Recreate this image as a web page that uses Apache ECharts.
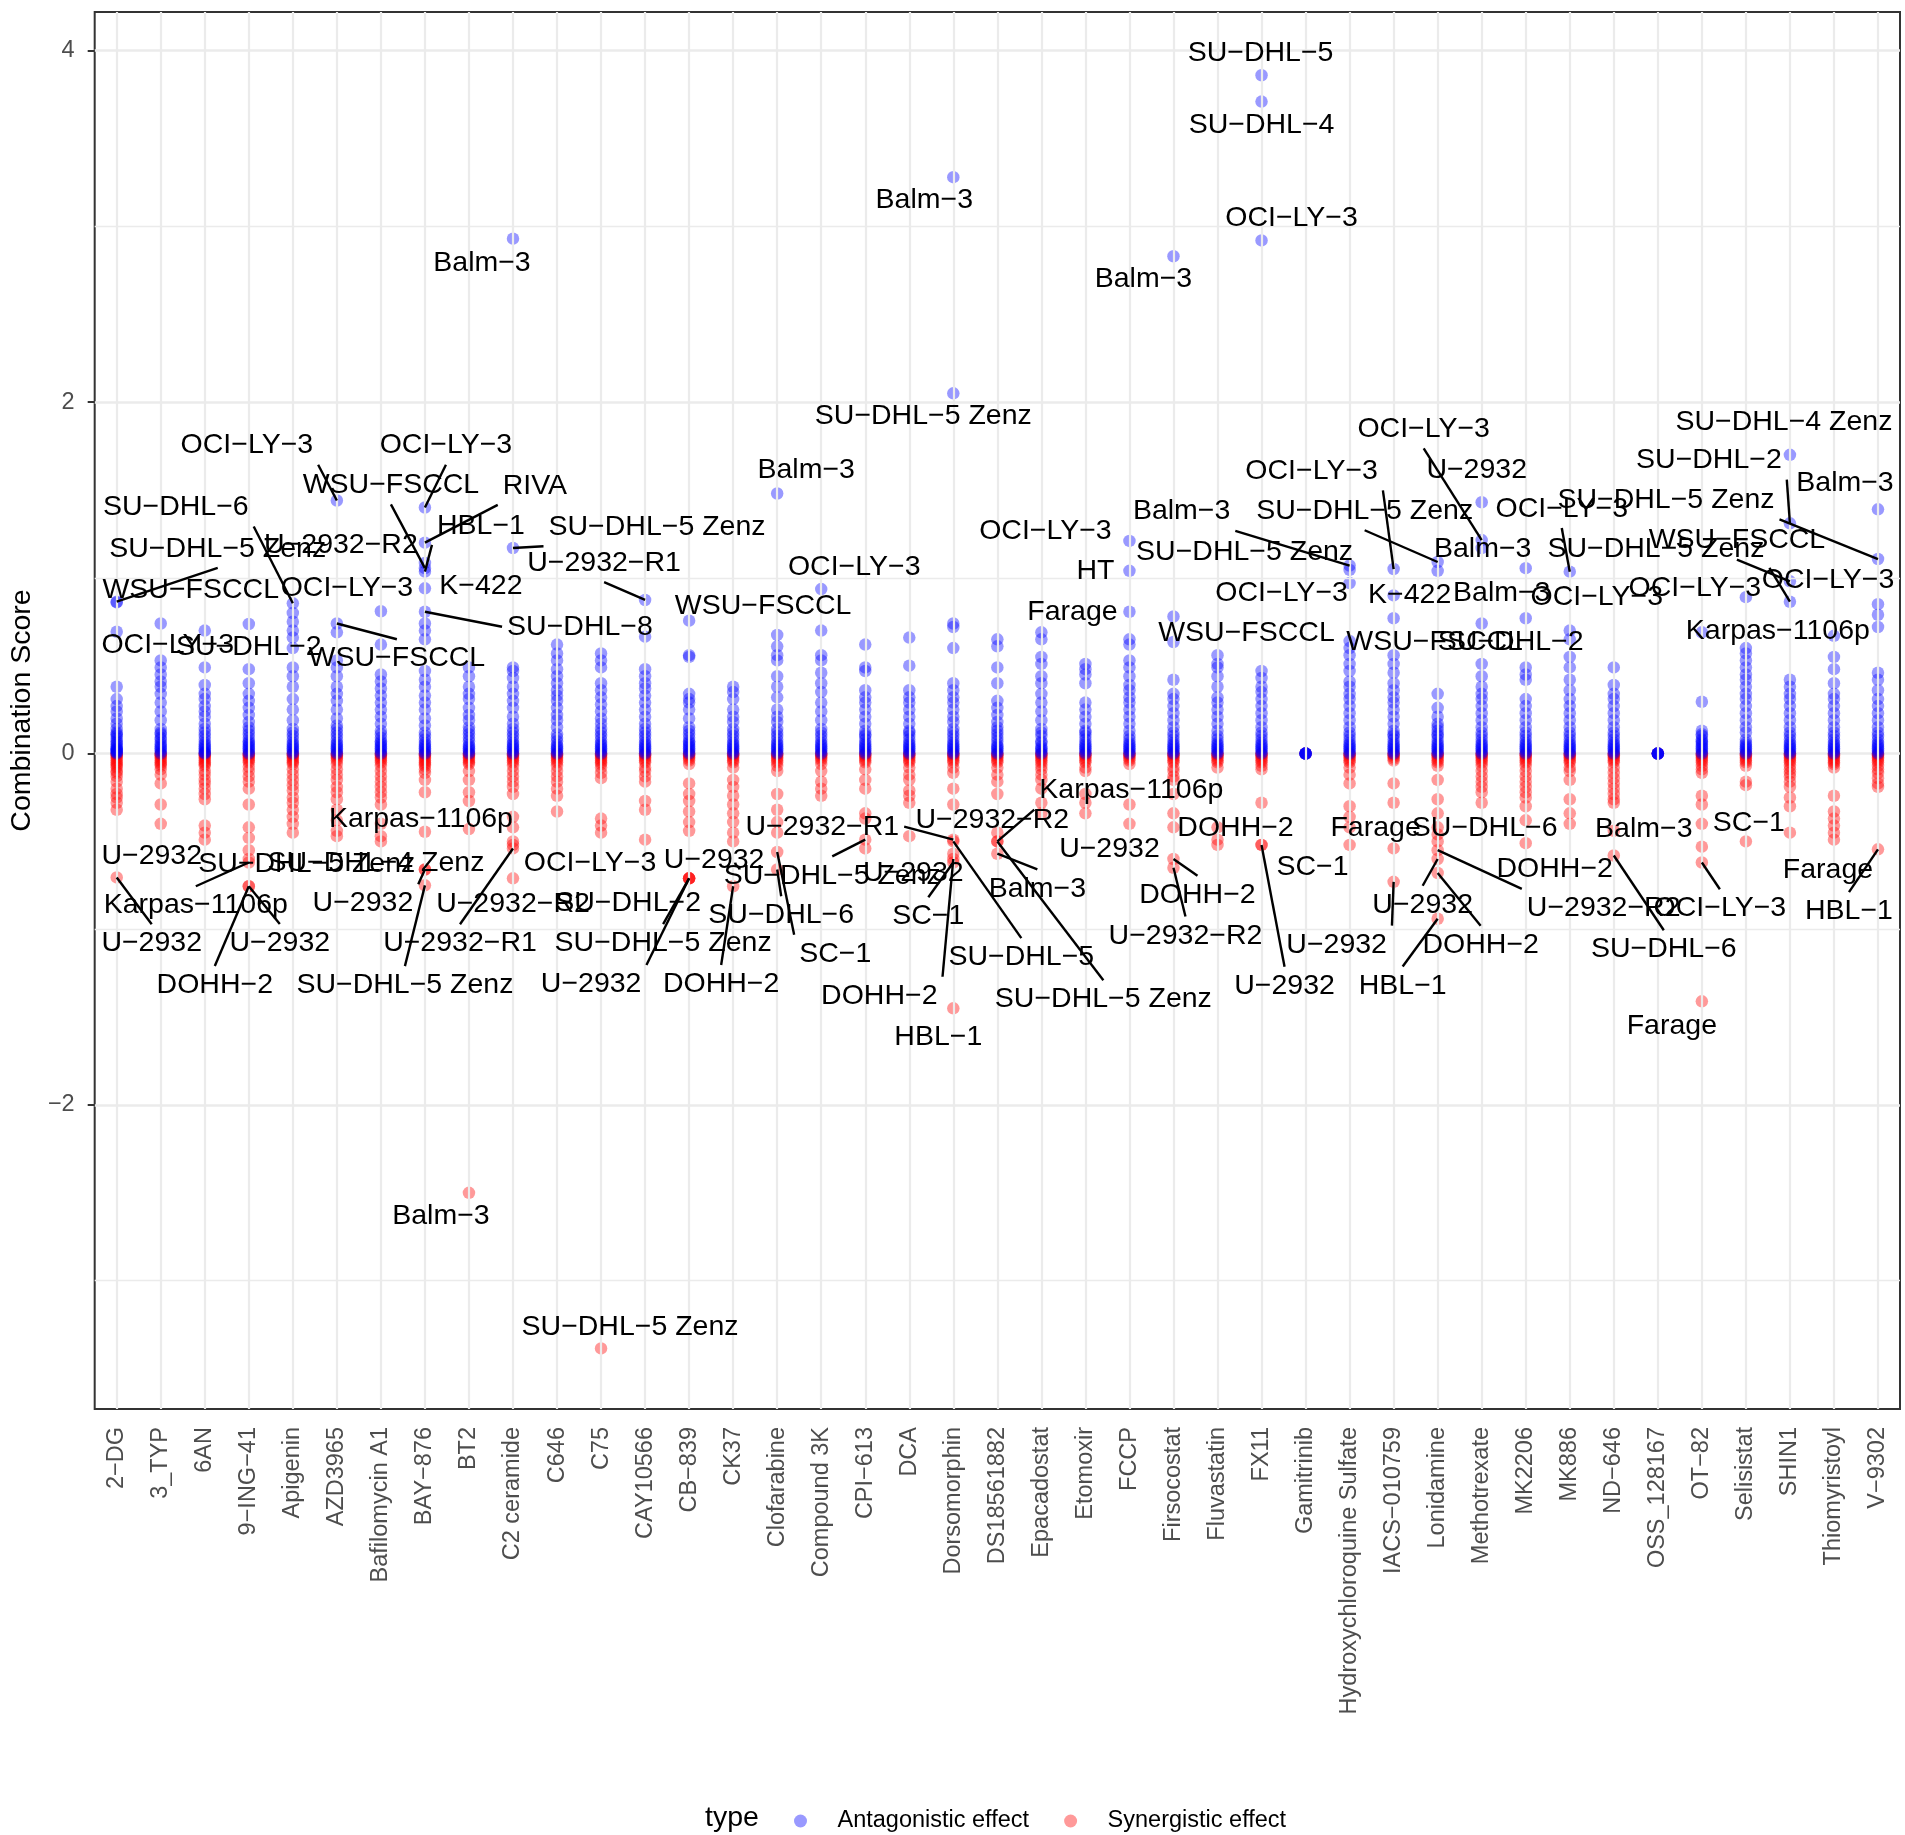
<!DOCTYPE html>
<html>
<head>
<meta charset="utf-8">
<script src="https://cdn.jsdelivr.net/npm/echarts@6.0.0/dist/echarts.min.js"></script>
<style>
html,body{margin:0;padding:0;background:#ffffff;}
#chart{width:1905px;height:1835px;}
</style>
</head>
<body>
<div id="chart"></div>
<script>
// ---------------- DATA ----------------
const categories = ['2−DG','3_TYP','6AN','9−ING−41','Apigenin','AZD3965','Bafilomycin A1','BAY−876','BT2','C2 ceramide','C646','C75','CAY10566','CB−839','CK37','Clofarabine','Compound 3K','CPI−613','DCA','Dorsomorphin','DS18561882','Epacadostat','Etomoxir','FCCP','Firsocostat','Fluvastatin','FX11','Gamitrinib','Hydroxychloroquine Sulfate','IACS−010759','Lonidamine','Methotrexate','MK2206','MK886','ND−646','OSS_128167','OT−82','Selisistat','SHIN1','Thiomyristoyl','V−9302'];

// unlabelled antagonistic (>= 0) scores, one list per category
const antagonisticScores = [
 [0.38,0.31,0.27,0.24,0.2,0.17,0.14,0.12,0.1,0.07,0.05,0.03,0.02,0.01,0,0.005,0.015,0.025,0.04,0.06,0.085,0.11],
 [0.74,0.53,0.49,0.45,0.41,0.38,0.34,0.29,0.24,0.19,0.14,0.11,0.08,0.04,0.02,0,0.01,0.03,0.05,0.06,0.09,0.12],
 [0.70,0.49,0.39,0.34,0.31,0.27,0.24,0.21,0.17,0.14,0.1,0.06,0.03,0.01,0,0.005,0.02,0.04,0.05,0.08,0.12],
 [0.48,0.40,0.34,0.3,0.26,0.22,0.18,0.15,0.11,0.07,0.04,0.01,0,0.02,0.03,0.05,0.06,0.09,0.13],
 [0.80,0.75,0.70,0.66,0.60,0.49,0.44,0.38,0.31,0.25,0.19,0.14,0.1,0.06,0.03,0,0.01,0.02,0.04,0.05,0.08,0.12],
 [0.69,0.53,0.49,0.44,0.38,0.34,0.3,0.25,0.2,0.16,0.12,0.08,0.04,0.01,0,0.02,0.03,0.05,0.06,0.1,0.14],
 [0.62,0.45,0.41,0.37,0.33,0.29,0.25,0.21,0.17,0.13,0.09,0.06,0.03,0,0.01,0.02,0.04,0.05,0.07,0.11],
 [0.74,0.70,0.65,0.47,0.42,0.38,0.33,0.29,0.25,0.2,0.16,0.12,0.08,0.04,0.01,0,0.02,0.03,0.05,0.06,0.1],
 [0.49,0.44,0.38,0.34,0.31,0.26,0.22,0.19,0.15,0.11,0.07,0.03,0,0.01,0.02,0.04,0.05,0.09,0.13],
 [0.49,0.47,0.43,0.38,0.34,0.3,0.26,0.21,0.17,0.14,0.1,0.06,0.02,0,0.01,0.03,0.04,0.05,0.08,0.12],
 [0.62,0.57,0.53,0.48,0.44,0.4,0.36,0.33,0.3,0.26,0.22,0.19,0.15,0.11,0.07,0.04,0.01,0,0.02,0.03,0.05,0.09],
 [0.57,0.53,0.49,0.40,0.36,0.32,0.28,0.24,0.2,0.17,0.14,0.1,0.06,0.02,0,0.01,0.03,0.04,0.05,0.08,0.12],
 [0.665,0.48,0.44,0.40,0.37,0.33,0.29,0.25,0.21,0.17,0.14,0.1,0.06,0.03,0,0.01,0.02,0.04,0.05,0.08,0.12],
 [0.56,0.55,0.34,0.31,0.29,0.25,0.2,0.15,0.11,0.07,0.04,0.01,0,0.02,0.03,0.05,0.06,0.09,0.13],
 [0.38,0.35,0.31,0.25,0.21,0.18,0.14,0.1,0.06,0.02,0,0.01,0.03,0.04,0.05,0.08,0.12],
 [0.675,0.61,0.56,0.53,0.44,0.38,0.32,0.25,0.21,0.18,0.14,0.1,0.06,0.02,0,0.01,0.03,0.04,0.05,0.08,0.12],
 [0.70,0.56,0.53,0.46,0.4,0.35,0.29,0.24,0.19,0.14,0.1,0.06,0.02,0,0.01,0.03,0.04,0.05,0.08,0.12],
 [0.62,0.49,0.47,0.36,0.32,0.29,0.25,0.21,0.17,0.13,0.1,0.06,0.02,0,0.01,0.03,0.04,0.05,0.08,0.11],
 [0.66,0.50,0.36,0.32,0.29,0.25,0.21,0.17,0.13,0.1,0.06,0.02,0,0.01,0.03,0.04,0.05,0.08,0.12],
 [0.74,0.72,0.60,0.40,0.36,0.32,0.29,0.25,0.21,0.18,0.14,0.1,0.06,0.03,0,0.01,0.02,0.04,0.05,0.08,0.12],
 [0.65,0.61,0.49,0.40,0.30,0.26,0.22,0.18,0.15,0.11,0.07,0.03,0,0.01,0.02,0.04,0.05,0.09,0.13],
 [0.69,0.65,0.55,0.51,0.44,0.4,0.34,0.29,0.24,0.19,0.14,0.1,0.04,0,0.01,0.02,0.03,0.06,0.07,0.12],
 [0.51,0.48,0.45,0.40,0.29,0.25,0.21,0.17,0.13,0.1,0.06,0.02,0,0.01,0.03,0.04,0.05,0.08,0.12],
 [0.65,0.62,0.53,0.49,0.44,0.39,0.36,0.32,0.29,0.25,0.21,0.17,0.13,0.1,0.06,0.02,0,0.01,0.03,0.04,0.05,0.08],
 [0.78,0.42,0.34,0.31,0.27,0.23,0.19,0.15,0.12,0.08,0.04,0,0.01,0.02,0.03,0.05,0.06,0.1],
 [0.56,0.51,0.49,0.44,0.38,0.32,0.29,0.25,0.21,0.17,0.13,0.1,0.06,0.02,0,0.01,0.03,0.04,0.05,0.08],
 [0.47,0.43,0.38,0.35,0.31,0.27,0.23,0.19,0.15,0.12,0.08,0.04,0,0.01,0.02,0.03,0.05,0.06,0.1],
 [0,0,0,0,0,0],
 [0.64,0.60,0.56,0.51,0.47,0.41,0.38,0.34,0.31,0.27,0.23,0.19,0.15,0.12,0.08,0.04,0,0.01,0.02,0.03,0.05,0.06,0.1],
 [0.56,0.51,0.46,0.4,0.36,0.32,0.29,0.25,0.21,0.17,0.13,0.1,0.06,0.02,0,0.01,0.03,0.04,0.05,0.08,0.11],
 [1.04,0.34,0.26,0.21,0.17,0.13,0.1,0.06,0.02,0,0.01,0.03,0.04,0.05,0.08,0.11,0.15],
 [0.74,0.51,0.44,0.38,0.34,0.31,0.27,0.23,0.19,0.15,0.12,0.08,0.04,0,0.01,0.02,0.03,0.05,0.06,0.1],
 [0.49,0.45,0.42,0.31,0.27,0.23,0.19,0.15,0.12,0.08,0.04,0,0.01,0.02,0.03,0.05,0.06,0.1],
 [0.65,0.55,0.49,0.42,0.36,0.31,0.27,0.23,0.19,0.15,0.12,0.08,0.04,0,0.01,0.02,0.03,0.05,0.06,0.1],
 [0.49,0.39,0.34,0.31,0.27,0.23,0.19,0.15,0.12,0.08,0.04,0,0.01,0.02,0.03,0.05,0.06,0.1],
 [0,0,0,0,0,0],
 [0.295,0.13,0.1,0.06,0.04,0.02,0,0.01,0.03,0.05,0.07,0.08,0.11],
 [0.60,0.57,0.53,0.49,0.45,0.42,0.38,0.34,0.31,0.27,0.23,0.19,0.15,0.12,0.08,0.04,0.01,0,0.02,0.03,0.05,0.06],
 [0.42,0.38,0.34,0.31,0.27,0.23,0.19,0.15,0.12,0.08,0.04,0,0.01,0.02,0.03,0.05,0.06,0.1],
 [0.67,0.55,0.48,0.40,0.34,0.31,0.27,0.23,0.19,0.15,0.12,0.08,0.04,0,0.01,0.02,0.03,0.05,0.06,0.1],
 [0.79,0.72,0.46,0.42,0.36,0.31,0.27,0.23,0.19,0.15,0.12,0.08,0.04,0,0.01,0.02,0.03,0.05,0.06,0.1]
];

// unlabelled synergistic (<= 0) scores, one list per category
const synergisticScores = [
 [0,-0.01,-0.02,-0.04,-0.06,-0.08,-0.1,-0.11,-0.13,-0.16,-0.2,-0.23,-0.25,-0.28,-0.32,-0.005,-0.03,-0.05,-0.07],
 [0,-0.01,-0.02,-0.04,-0.05,-0.07,-0.09,-0.12,-0.17,-0.29,-0.005,-0.03,-0.06],
 [0,-0.01,-0.03,-0.05,-0.07,-0.1,-0.12,-0.15,-0.17,-0.2,-0.23,-0.26,-0.41,-0.45,-0.49,-0.005,-0.02,-0.04,-0.06],
 [0,-0.01,-0.03,-0.05,-0.075,-0.1,-0.13,-0.16,-0.2,-0.29,-0.42,-0.48,-0.55,-0.005,-0.02,-0.04],
 [0,-0.01,-0.02,-0.04,-0.06,-0.09,-0.12,-0.15,-0.18,-0.21,-0.25,-0.28,-0.32,-0.36,-0.4,-0.45,-0.005,-0.03,-0.05],
 [0,-0.01,-0.03,-0.06,-0.09,-0.12,-0.15,-0.19,-0.22,-0.26,-0.32,-0.38,-0.44,-0.47,-0.005,-0.02,-0.04],
 [0,-0.01,-0.02,-0.04,-0.07,-0.1,-0.13,-0.16,-0.19,-0.22,-0.25,-0.29,-0.40,-0.47,-0.50,-0.005,-0.03,-0.05],
 [0,-0.01,-0.02,-0.04,-0.05,-0.07,-0.09,-0.11,-0.15,-0.22,-0.005,-0.03,-0.06],
 [0,-0.01,-0.02,-0.04,-0.06,-0.1,-0.15,-0.22,-0.27,-0.43,-0.005,-0.03,-0.05],
 [0,-0.01,-0.02,-0.04,-0.07,-0.1,-0.13,-0.16,-0.19,-0.23,-0.36,-0.42,-0.52,-0.005,-0.03,-0.05],
 [0,-0.01,-0.03,-0.05,-0.07,-0.1,-0.13,-0.16,-0.2,-0.24,-0.33,-0.005,-0.02,-0.04],
 [0,-0.01,-0.03,-0.05,-0.08,-0.11,-0.14,-0.37,-0.41,-0.45,-0.005,-0.02,-0.04,-0.06],
 [0,-0.01,-0.03,-0.05,-0.08,-0.1,-0.13,-0.16,-0.27,-0.32,-0.49,-0.005,-0.02,-0.04],
 [0,-0.01,-0.03,-0.06,-0.17,-0.23,-0.27,-0.33,-0.39,-0.44,-0.005,-0.02,-0.04],
 [0,-0.01,-0.02,-0.05,-0.08,-0.15,-0.19,-0.24,-0.29,-0.34,-0.39,-0.45,-0.5,-0.005,-0.03,-0.04],
 [0,-0.01,-0.03,-0.05,-0.07,-0.1,-0.23,-0.32,-0.39,-0.45,-0.005,-0.02,-0.04],
 [0,-0.01,-0.03,-0.06,-0.1,-0.16,-0.2,-0.24,-0.005,-0.02,-0.04],
 [0,-0.01,-0.03,-0.05,-0.09,-0.15,-0.2,-0.34,-0.37,-0.54,-0.005,-0.02,-0.04],
 [0,-0.01,-0.03,-0.05,-0.08,-0.12,-0.15,-0.21,-0.24,-0.28,-0.47,-0.005,-0.02,-0.04],
 [0,-0.01,-0.03,-0.05,-0.08,-0.11,-0.2,-0.29,-0.005,-0.02,-0.04],
 [0,-0.01,-0.03,-0.05,-0.08,-0.12,-0.16,-0.23,-0.005,-0.02,-0.04],
 [0,-0.01,-0.03,-0.05,-0.07,-0.09,-0.12,-0.15,-0.2,-0.28,-0.34,-0.005,-0.02,-0.04],
 [0,-0.01,-0.03,-0.05,-0.08,-0.1,-0.23,-0.28,-0.34,-0.005,-0.02,-0.04],
 [0,-0.01,-0.02,-0.04,-0.06,-0.29,-0.005,-0.03],
 [0,-0.01,-0.03,-0.05,-0.08,-0.1,-0.13,-0.15,-0.23,-0.34,-0.42,-0.005,-0.02,-0.04],
 [0,-0.01,-0.03,-0.05,-0.08,-0.42,-0.52,-0.005,-0.02,-0.04],
 [0,-0.01,-0.03,-0.05,-0.07,-0.09,-0.28,-0.005,-0.02,-0.04],
 [0,0],
 [0,-0.01,-0.03,-0.05,-0.08,-0.12,-0.17,-0.3,-0.36,-0.42,-0.005,-0.02,-0.04],
 [0,-0.01,-0.02,-0.04,-0.17,-0.28,-0.54,-0.005,-0.03],
 [0,-0.01,-0.03,-0.05,-0.07,-0.15,-0.26,-0.34,-0.42,-0.46,-0.005,-0.02,-0.04],
 [0,-0.01,-0.03,-0.05,-0.07,-0.1,-0.13,-0.16,-0.19,-0.22,-0.28,-0.005,-0.02,-0.04],
 [0,-0.01,-0.03,-0.05,-0.07,-0.1,-0.13,-0.16,-0.19,-0.22,-0.25,-0.3,-0.38,-0.005,-0.02,-0.04],
 [0,-0.01,-0.03,-0.05,-0.08,-0.1,-0.15,-0.26,-0.34,-0.4,-0.005,-0.02,-0.04],
 [0,-0.01,-0.03,-0.05,-0.08,-0.11,-0.14,-0.17,-0.2,-0.23,-0.26,-0.28,-0.005,-0.02,-0.04],
 [0,0],
 [0,-0.01,-0.03,-0.05,-0.07,-0.09,-0.11,-0.24,-0.29,-0.4,-0.53,-0.005,-0.02,-0.04],
 [0,-0.01,-0.03,-0.05,-0.07,-0.16,-0.18,-0.005,-0.02,-0.04],
 [0,-0.01,-0.03,-0.05,-0.07,-0.09,-0.11,-0.13,-0.16,-0.19,-0.25,-0.3,-0.45,-0.005,-0.02,-0.04],
 [0,-0.01,-0.02,-0.04,-0.06,-0.08,-0.24,-0.33,-0.37,-0.41,-0.45,-0.005,-0.03,-0.05],
 [0,-0.01,-0.03,-0.05,-0.07,-0.09,-0.11,-0.14,-0.17,-0.19,-0.005,-0.02,-0.04]
];

// labelled points: [category index, score, cell line]
const labeledPoints = [
 [26,3.86,'SU−DHL−5'],[26,3.71,'SU−DHL−4'],[19,3.28,'Balm−3'],[9,2.93,'Balm−3'],[26,2.92,'OCI−LY−3'],
 [24,2.83,'Balm−3'],[19,2.05,'SU−DHL−5 Zenz'],[15,1.48,'Balm−3'],[12,0.874,'U−2932−R1'],[9,1.17,'SU−DHL−5 Zenz'],
 [13,0.756,'WSU−FSCCL'],[16,0.936,'OCI−LY−3'],[23,1.21,'OCI−LY−3'],[23,1.04,'HT'],[23,0.807,'Farage'],
 [28,1.07,'Balm−3'],[28,1.045,'SU−DHL−5 Zenz'],[30,1.09,'SU−DHL−5 Zenz'],[29,1.05,'OCI−LY−3'],[31,1.215,'OCI−LY−3'],
 [31,1.43,'U−2932'],[29,0.90,'K−422'],[28,0.97,'OCI−LY−3'],[24,0.635,'WSU−FSCCL'],[29,0.77,'WSU−FSCCL'],
 [32,0.77,'SU−DHL−2'],[31,1.17,'Balm−3'],[32,1.055,'Balm−3'],[33,1.035,'OCI−LY−3'],[40,1.107,'SU−DHL−5 Zenz'],
 [38,1.70,'SU−DHL−4 Zenz'],[38,1.31,'SU−DHL−2'],[40,1.39,'Balm−3'],[38,0.98,'WSU−FSCCL'],[38,0.864,'SU−DHL−5 Zenz'],
 [40,0.85,'OCI−LY−3'],[37,0.89,'OCI−LY−3'],[33,0.70,'OCI−LY−3'],[36,0.69,'Karpas−1106p'],[5,1.44,'OCI−LY−3'],
 [7,1.40,'OCI−LY−3'],[7,1.055,'WSU−FSCCL'],[7,1.20,'RIVA'],[7,1.035,'HBL−1'],[7,1.085,'U−2932−R2'],
 [7,0.94,'K−422'],[7,0.807,'SU−DHL−8'],[4,0.855,'SU−DHL−6'],[0,0.864,'SU−DHL−5 Zenz'],[0,0.86,'WSU−FSCCL'],
 [0,0.693,'OCI−LY−3'],[3,0.737,'SU−DHL−2'],[6,0.81,'OCI−LY−3'],[5,0.74,'WSU−FSCCL'],
 [7,-0.445,'Karpas−1106p'],[1,-0.40,'U−2932'],[3,-0.62,'Karpas−1106p'],[3,-0.60,'SU−DHL−5 Zenz'],[7,-0.66,'SU−DHL−4 Zenz'],
 [7,-0.66,'U−2932'],[7,-0.75,'SU−DHL−5 Zenz'],[9,-0.54,'U−2932−R1'],[9,-0.71,'U−2932−R2'],[9,-0.50,'OCI−LY−3'],
 [13,-0.71,'SU−DHL−2'],[13,-0.71,'U−2932'],[13,-0.71,'SU−DHL−5 Zenz'],[13,-0.71,'U−2932'],[15,-0.56,'SC−1'],
 [15,-0.66,'SU−DHL−6'],[17,-0.49,'SU−DHL−5 Zenz'],[14,-0.755,'DOHH−2'],[19,-0.49,'U−2932−R1'],[19,-0.57,'U−2932'],
 [19,-0.62,'SC−1'],[19,-0.60,'DOHH−2'],[19,-0.50,'SU−DHL−5'],[19,-1.45,'HBL−1'],[20,-0.50,'SU−DHL−5 Zenz'],
 [20,-0.57,'Balm−3'],[20,-0.50,'Karpas−1106p'],[20,-0.45,'U−2932−R2'],[23,-0.40,'U−2932'],[24,-0.60,'DOHH−2'],
 [24,-0.65,'U−2932−R2'],[25,-0.49,'DOHH−2'],[26,-0.52,'U−2932'],[26,-0.52,'SC−1'],[28,-0.52,'Farage'],
 [30,-0.55,'U−2932−R2'],[30,-0.50,'SU−DHL−6'],[30,-0.60,'U−2932'],[30,-0.68,'DOHH−2'],[30,-0.94,'HBL−1'],
 [29,-0.73,'U−2932'],[32,-0.51,'DOHH−2'],[34,-0.58,'SU−DHL−6'],[34,-0.44,'Balm−3'],[37,-0.50,'SC−1'],
 [36,-0.62,'OCI−LY−3'],[39,-0.49,'Farage'],[40,-0.545,'HBL−1'],[36,-1.41,'Farage'],[0,-0.705,'U−2932'],
 [3,-0.755,'U−2932'],[3,-0.755,'DOHH−2'],[8,-2.50,'Balm−3'],[11,-3.385,'SU−DHL−5 Zenz']
];

// repelled label offsets in pixels (label centre relative to its point), same order as labeledPoints
const labelOffsets = [
 [-1,-22],[0,24],[-29,23],[-31,24],[30,-22],
 [-30,23],[-30,23],[29,-23],[-41,-37],[144,-21],
 [74,-15],[33,-22],[-84,-10],[-34,0],[-57,0],
 [-168,-54],[-105,-18],[-73,-51],[-82,-98],[-58,-111],
 [-5,-32],[16,0],[-68,10],[73,-9],[41,24],
 [-15,24],[1,1],[-24,25],[-8,-63],[-212,-59],
 [-6,-33],[-81,-63],[-33,-26],[-53,-41],[-134,-53],
 [-50,-24],[-51,-9],[27,-33],[76,-1],[-90,-55],
 [21,-62],[-34,-83],[110,-57],[56,-46],[-84,-18],
 [56,-2],[155,15],[-117,-96],[101,-53],[74,-12],
 [51,13],[0,23],[-34,-23],[60,35],
 [-4,-13],[-9,32],[-53,43],[58,5],[-49,-6],
 [-62,34],[-20,100],[-53,95],[0,26],[77,22],
 [-61,25],[25,-18],[-26,65],[-98,106],[58,102],
 [4,46],[-33,36],[-12,98],[-131,-13],[-40,19],
 [-25,54],[-74,137],[68,116],[-15,29],[106,158],
 [40,35],[134,-51],[-5,-12],[-20,25],[24,36],
 [12,68],[18,-12],[23,141],[51,22],[26,-17],
 [166,58],[47,-13],[-15,46],[43,72],[-35,67],
 [-57,63],[29,26],[50,94],[30,-2],[3,-18],
 [18,46],[-6,30],[-29,62],[-30,25],[35,66],
 [31,57],[-34,99],[-28,23],[29,-21]
];

const yMajorTicks = [-2, 0, 2, 4];
const yMinorTicks = [-3, -1, 1, 3];
const seriesNames = ['Antagonistic effect', 'Synergistic effect'];

// ---------------- BUILD ----------------
const FONT = '"Liberation Sans", Arial, Helvetica, sans-serif';
const LABEL_SIZE = 28.5;
const AXIS_SIZE = 23.5;

const blueData = [], redData = [];
antagonisticScores.forEach((list, i) => list.forEach(v => blueData.push([i, v])));
synergisticScores.forEach((list, i) => list.forEach(v => redData.push([i, v])));
labeledPoints.forEach(d => (d[1] >= 0 ? blueData : redData).push([d[0], d[1]]));

const mctx = document.createElement('canvas').getContext('2d');
function textWidth(t) {
  mctx.font = LABEL_SIZE + 'px "Liberation Sans"';
  return mctx.measureText(t).width;
}

function renderLabel(params, api) {
  const idx = api.value(2);
  const p = api.coord([api.value(0), api.value(1)]);
  const off = labelOffsets[idx];
  const text = labeledPoints[idx][2];
  const cx = p[0] + off[0], cy = p[1] + off[1];
  const w = textWidth(text);
  const pad = 5, hh = LABEL_SIZE * 0.5;
  const x1 = cx - w / 2 - pad, x2 = cx + w / 2 + pad;
  const y1 = cy - hh - pad, y2 = cy + hh + pad;
  // nearest distance from the point to the padded label box
  const nx = Math.max(x1, Math.min(p[0], x2));
  const ny = Math.max(y1, Math.min(p[1], y2));
  const gap = Math.hypot(nx - p[0], ny - p[1]);
  // connection point: side middle or corner
  const ex = p[0] < x1 ? x1 : (p[0] > x2 ? x2 : cx);
  const ey = p[1] < y1 ? y1 : (p[1] > y2 ? y2 : cy);
  const children = [];
  if (gap > 15) {
    children.push({
      type: 'line',
      shape: { x1: p[0], y1: p[1], x2: ex, y2: ey },
      style: { stroke: '#000000', lineWidth: 2.4 }
    });
  }
  children.push({
    type: 'text',
    x: cx, y: cy,
    style: {
      text: text, fill: '#000000',
      fontSize: LABEL_SIZE, fontFamily: FONT,
      align: 'center', verticalAlign: 'middle'
    }
  });
  return { type: 'group', children: children };
}

const chart = echarts.init(document.getElementById('chart'), null, { renderer: 'canvas' });

const gridLines = [];
yMinorTicks.forEach(v => gridLines.push({ yAxis: v }));
categories.forEach((c, i) => gridLines.push({ xAxis: i, lineStyle: { width: 2.2, color: '#EBEBEB', type: 'solid' } }));

chart.setOption({
  animation: false,
  backgroundColor: '#ffffff',
  textStyle: { fontFamily: FONT },
  grid: {
    left: 94, right: 5, top: 12, bottom: 426,
    show: true, borderColor: '#333333', borderWidth: 2, backgroundColor: 'transparent'
  },
  legend: {
    data: seriesNames,
    left: 789, top: 1804,
    icon: 'circle',
    itemWidth: 64, itemHeight: 13, itemGap: 35,
    selectedMode: false,
    textStyle: { fontSize: AXIS_SIZE, color: '#000000', fontFamily: FONT }
  },
  graphic: [{
    type: 'text', left: 705, top: 1804,
    style: { text: 'type', fontSize: 28.5, fill: '#000000', fontFamily: FONT }
  }],
  xAxis: {
    type: 'category',
    data: categories,
    boundaryGap: true,
    axisLine: { show: false },
    axisTick: { show: true, alignWithLabel: true, interval: 0, length: 7, lineStyle: { color: '#333333', width: 2 } },
    axisLabel: { interval: 0, rotate: 90, margin: 18, fontSize: AXIS_SIZE, color: '#4D4D4D', fontFamily: FONT },
    splitLine: { show: false }
  },
  yAxis: {
    type: 'value',
    min: -3.73, max: 4.22, splitNumber: 4,
    name: 'Combination Score',
    nameLocation: 'middle', nameGap: 53,
    nameTextStyle: { fontSize: 28.5, color: '#000000', fontFamily: FONT },
    axisLine: { show: false },
    axisTick: { show: true, length: 7, customValues: yMajorTicks, lineStyle: { color: '#333333', width: 2 } },
    axisLabel: {
      customValues: yMajorTicks,
      margin: 20, fontSize: AXIS_SIZE, color: '#4D4D4D', fontFamily: FONT,
      formatter: v => String(v).replace('-', '−')
    },
    splitLine: { show: true, lineStyle: { color: '#EBEBEB', width: 2.6 } }
  },
  series: [
    {
      name: 'grid-minor', type: 'scatter', data: [], z: 1, silent: true,
      markLine: {
        silent: true, symbol: ['none', 'none'], animation: false,
        label: { show: false },
        lineStyle: { color: '#EBEBEB', width: 1.3, type: 'solid' },
        emphasis: { disabled: true },
        data: gridLines
      }
    },
    {
      name: seriesNames[1], type: 'scatter', data: redData, z: 2,
      symbol: 'circle', symbolSize: 12.5,
      itemStyle: { color: 'rgba(255,0,0,0.5)' },
      emphasis: { disabled: true }, silent: true
    },
    {
      name: seriesNames[0], type: 'scatter', data: blueData, z: 3,
      symbol: 'circle', symbolSize: 12.5,
      itemStyle: { color: 'rgba(0,0,255,0.5)' },
      emphasis: { disabled: true }, silent: true
    },
    {
      name: 'labels', type: 'custom', coordinateSystem: 'cartesian2d',
      data: labeledPoints.map((d, i) => [d[0], d[1], i]),
      encode: { x: 0, y: 1 },
      renderItem: renderLabel,
      clip: false, z: 10, silent: true
    }
  ]
});
</script>
</body>
</html>
